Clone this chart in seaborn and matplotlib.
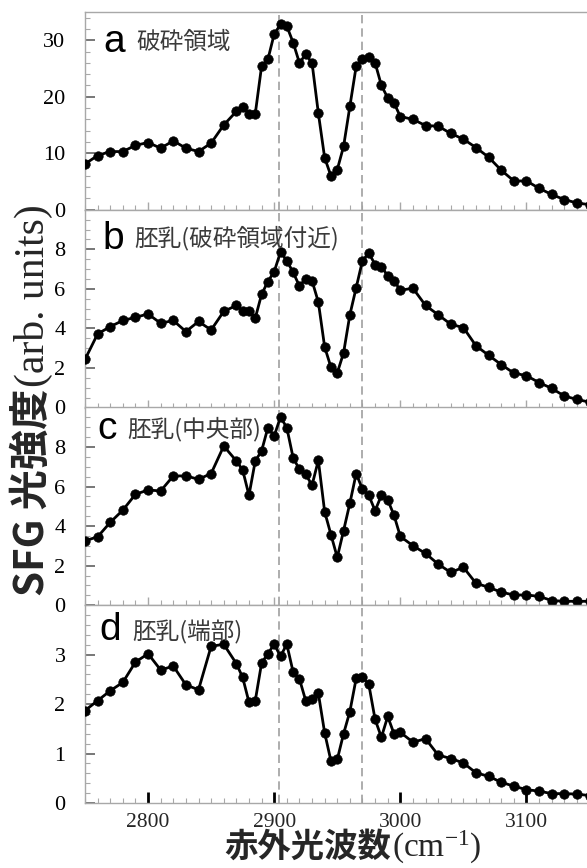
import matplotlib
matplotlib.use("Agg")
import matplotlib.pyplot as plt
import pandas as pd
import seaborn as sns
from matplotlib.ticker import FixedLocator, MultipleLocator, AutoMinorLocator

# Infrared wavenumber of each measured point (cm^-1)
wavenumber = [2750, 2760, 2770, 2780, 2790, 2800, 2810, 2820, 2830, 2840, 2850, 2860,
              2870, 2875, 2880, 2885, 2890, 2895, 2900, 2905, 2910, 2915, 2920, 2925,
              2930, 2935, 2940, 2945, 2950, 2955, 2960, 2965, 2970, 2975, 2980, 2985,
              2990, 2995, 3000,
              3010, 3020, 3030, 3040, 3050, 3060, 3070, 3080, 3090, 3100, 3110, 3120,
              3130, 3140, 3150]

# SFG intensity (arb. units) for each region
sfg_a = [8.1, 9.6, 10.3, 10.3, 11.4, 11.9, 10.9, 12.2, 10.9, 10.3, 11.8, 15.0,
         17.4, 18.2, 17.0, 17.0, 25.4, 26.6, 31.1, 32.8, 32.5, 29.6, 26.0, 27.5,
         26.0, 17.1, 9.2, 6.0, 7.1, 11.2, 18.3, 25.4, 26.7, 27.0, 26.0, 22.0,
         19.8, 18.9, 16.5,
         16.0, 14.9, 14.8, 13.5, 12.5, 11.0, 9.3, 7.0, 5.1, 5.1, 3.8, 2.7,
         1.8, 1.2, 0.9]
sfg_b = [2.43, 3.72, 4.09, 4.40, 4.56, 4.73, 4.26, 4.40, 3.84, 4.35, 3.92, 4.86,
         5.16, 4.90, 4.86, 4.52, 5.72, 6.37, 6.87, 7.86, 7.43, 6.83, 6.15, 6.52,
         6.41, 5.33, 3.06, 2.04, 1.75, 2.76, 4.69, 6.06, 7.43, 7.81, 7.23, 7.13,
         6.66, 6.41, 5.93,
         6.03, 5.16, 4.69, 4.21, 4.04, 3.12, 2.64, 2.17, 1.74, 1.61, 1.26, 0.97,
         0.58, 0.41, 0.27]
sfg_c = [3.26, 3.46, 4.19, 4.81, 5.61, 5.83, 5.78, 6.54, 6.54, 6.37, 6.66, 8.05,
         7.30, 6.84, 5.56, 7.30, 7.80, 8.98, 8.56, 9.52, 8.98, 7.46, 6.87, 6.62,
         6.07, 7.33, 4.73, 3.57, 2.42, 3.77, 5.16, 6.66, 5.86, 5.56, 4.78, 5.56,
         5.33, 4.55, 3.48,
         3.01, 2.62, 2.08, 1.66, 1.92, 1.11, 0.91, 0.66, 0.52, 0.52, 0.45, 0.24,
         0.20, 0.20, 0.20]
sfg_d = [1.87, 2.07, 2.27, 2.44, 2.85, 3.02, 2.69, 2.77, 2.39, 2.29, 3.17, 3.21,
         2.82, 2.54, 2.04, 2.07, 2.83, 3.02, 3.21, 2.97, 3.21, 2.65, 2.51, 2.07,
         2.10, 2.22, 1.42, 0.85, 0.88, 1.40, 1.85, 2.52, 2.55, 2.40, 1.69, 1.33,
         1.75, 1.40, 1.43,
         1.23, 1.30, 0.97, 0.90, 0.81, 0.61, 0.54, 0.42, 0.34, 0.27, 0.24, 0.19,
         0.19, 0.18, 0.15]

panel_letters = ["a", "b", "c", "d"]
panel_titles = ["破砕領域", "胚乳(破砕領域付近)", "胚乳(中央部)", "胚乳(端部)"]
peak_positions = [2904, 2970]
y_upper = [35, 10, 10, 4]
y_ticks = [[0, 10, 20, 30], [0, 2, 4, 6, 8], [0, 2, 4, 6, 8], [0, 1, 2, 3]]
y_minor_div = [5, 4, 4, 5]

sns.set_style("ticks")
plt.rcParams["font.family"] = ["Liberation Serif", "DejaVu Serif"]
plt.rcParams["mathtext.fontset"] = "stix"

W, H = 587, 868
fig = plt.figure(figsize=(W / 100, H / 100), dpi=100)
axes = fig.subplots(4, 1, sharex=True)
fig.subplots_adjust(left=85 / W, right=1.0, top=1 - 12 / H, bottom=1 - 803 / H, hspace=0)

series = [sfg_a, sfg_b, sfg_c, sfg_d]
letter_pos = [(0.036, 0.85), (0.034, 0.85), (0.024, 0.89), (0.028, 0.875)]
title_pos = [(0.103, 0.845), (0.099, 0.855), (0.085, 0.89), (0.094, 0.865)]
spine_grey = "#a8a8a8"

for i, ax in enumerate(axes):
    df = pd.DataFrame({"wavenumber": wavenumber, "intensity": series[i]})
    for xp in peak_positions:
        ax.axvline(xp, color="#a0a0a0", lw=1.2, ls=(0, (5, 3)), zorder=1)
    sns.lineplot(data=df, x="wavenumber", y="intensity", ax=ax, color="black",
                 lw=2.0, marker="o", markersize=6.8, markeredgecolor="black",
                 markeredgewidth=0.5, zorder=3, estimator=None, sort=False)
    ax.set_xlim(2750, 3148)
    ax.set_ylim(0, y_upper[i])
    ax.set_xlabel("")
    ax.set_ylabel("")
    ax.yaxis.set_major_locator(FixedLocator(y_ticks[i]))
    ax.yaxis.set_minor_locator(AutoMinorLocator(y_minor_div[i]))
    ax.xaxis.set_major_locator(MultipleLocator(100))
    ax.xaxis.set_minor_locator(MultipleLocator(10))
    for side in ["left", "bottom", "top"]:
        ax.spines[side].set_color(spine_grey)
        ax.spines[side].set_linewidth(1.0)
    ax.spines["right"].set_visible(False)
    ax.tick_params(axis="y", which="major", direction="in", length=7, width=1.2,
                   color="#606060", labelsize=16, pad=14, labelcolor="black")
    ax.tick_params(axis="y", which="minor", direction="in", length=3.5, width=0.8,
                   color=spine_grey)
    bottom_panel = i == 3
    ax.tick_params(axis="x", which="major", direction="in", length=8 if bottom_panel else 6,
                   width=2.0 if bottom_panel else 1.0,
                   color="black" if bottom_panel else spine_grey,
                   labelsize=15.5, pad=7, labelbottom=bottom_panel, top=False)
    ax.tick_params(axis="x", which="minor", direction="in", length=3.5, width=0.8,
                   color=spine_grey, top=False)
    ax.text(*letter_pos[i], panel_letters[i], transform=ax.transAxes,
            fontfamily="Liberation Sans", fontsize=28, va="center", ha="left",
            color="black")
    ax.text(*title_pos[i], panel_titles[i], transform=ax.transAxes,
            fontfamily=["Noto Sans CJK JP", "DejaVu Sans"], fontsize=17,
            va="center", ha="left", color="#3a3a3a")

fig.canvas.draw()
renderer = fig.canvas.get_renderer()

# y-axis label: bold gothic part followed by the serif unit part
y_base_x = 44 / W
y_start = 1 - 596 / H
yl1 = fig.text(y_base_x, y_start, "SFG 光強度", rotation=90, rotation_mode="anchor",
               ha="left", va="baseline", fontsize=29, fontweight="bold",
               fontfamily=["Noto Sans CJK JP", "DejaVu Sans"])
bb = yl1.get_window_extent(renderer).transformed(fig.transFigure.inverted())
fig.text(y_base_x, bb.y1 + 0.002, "(arb. units)", rotation=90, rotation_mode="anchor",
         ha="left", va="baseline", fontsize=30, fontfamily="Liberation Serif")

# x-axis label
x_start = 224 / W
x_base = 1 - 857 / H
xl1 = fig.text(x_start, x_base, "赤外光波数", ha="left", va="baseline", fontsize=24,
               fontweight="bold", fontfamily=["Noto Sans CJK JP", "DejaVu Sans"])
bb = xl1.get_window_extent(renderer).transformed(fig.transFigure.inverted())
fig.text(bb.x1 + 0.002, x_base, r"(cm$\mathregular{^{-1}}$)", ha="left", va="baseline",
         fontsize=24, fontfamily="Liberation Serif")

fig.savefig("out.png", dpi=100)
